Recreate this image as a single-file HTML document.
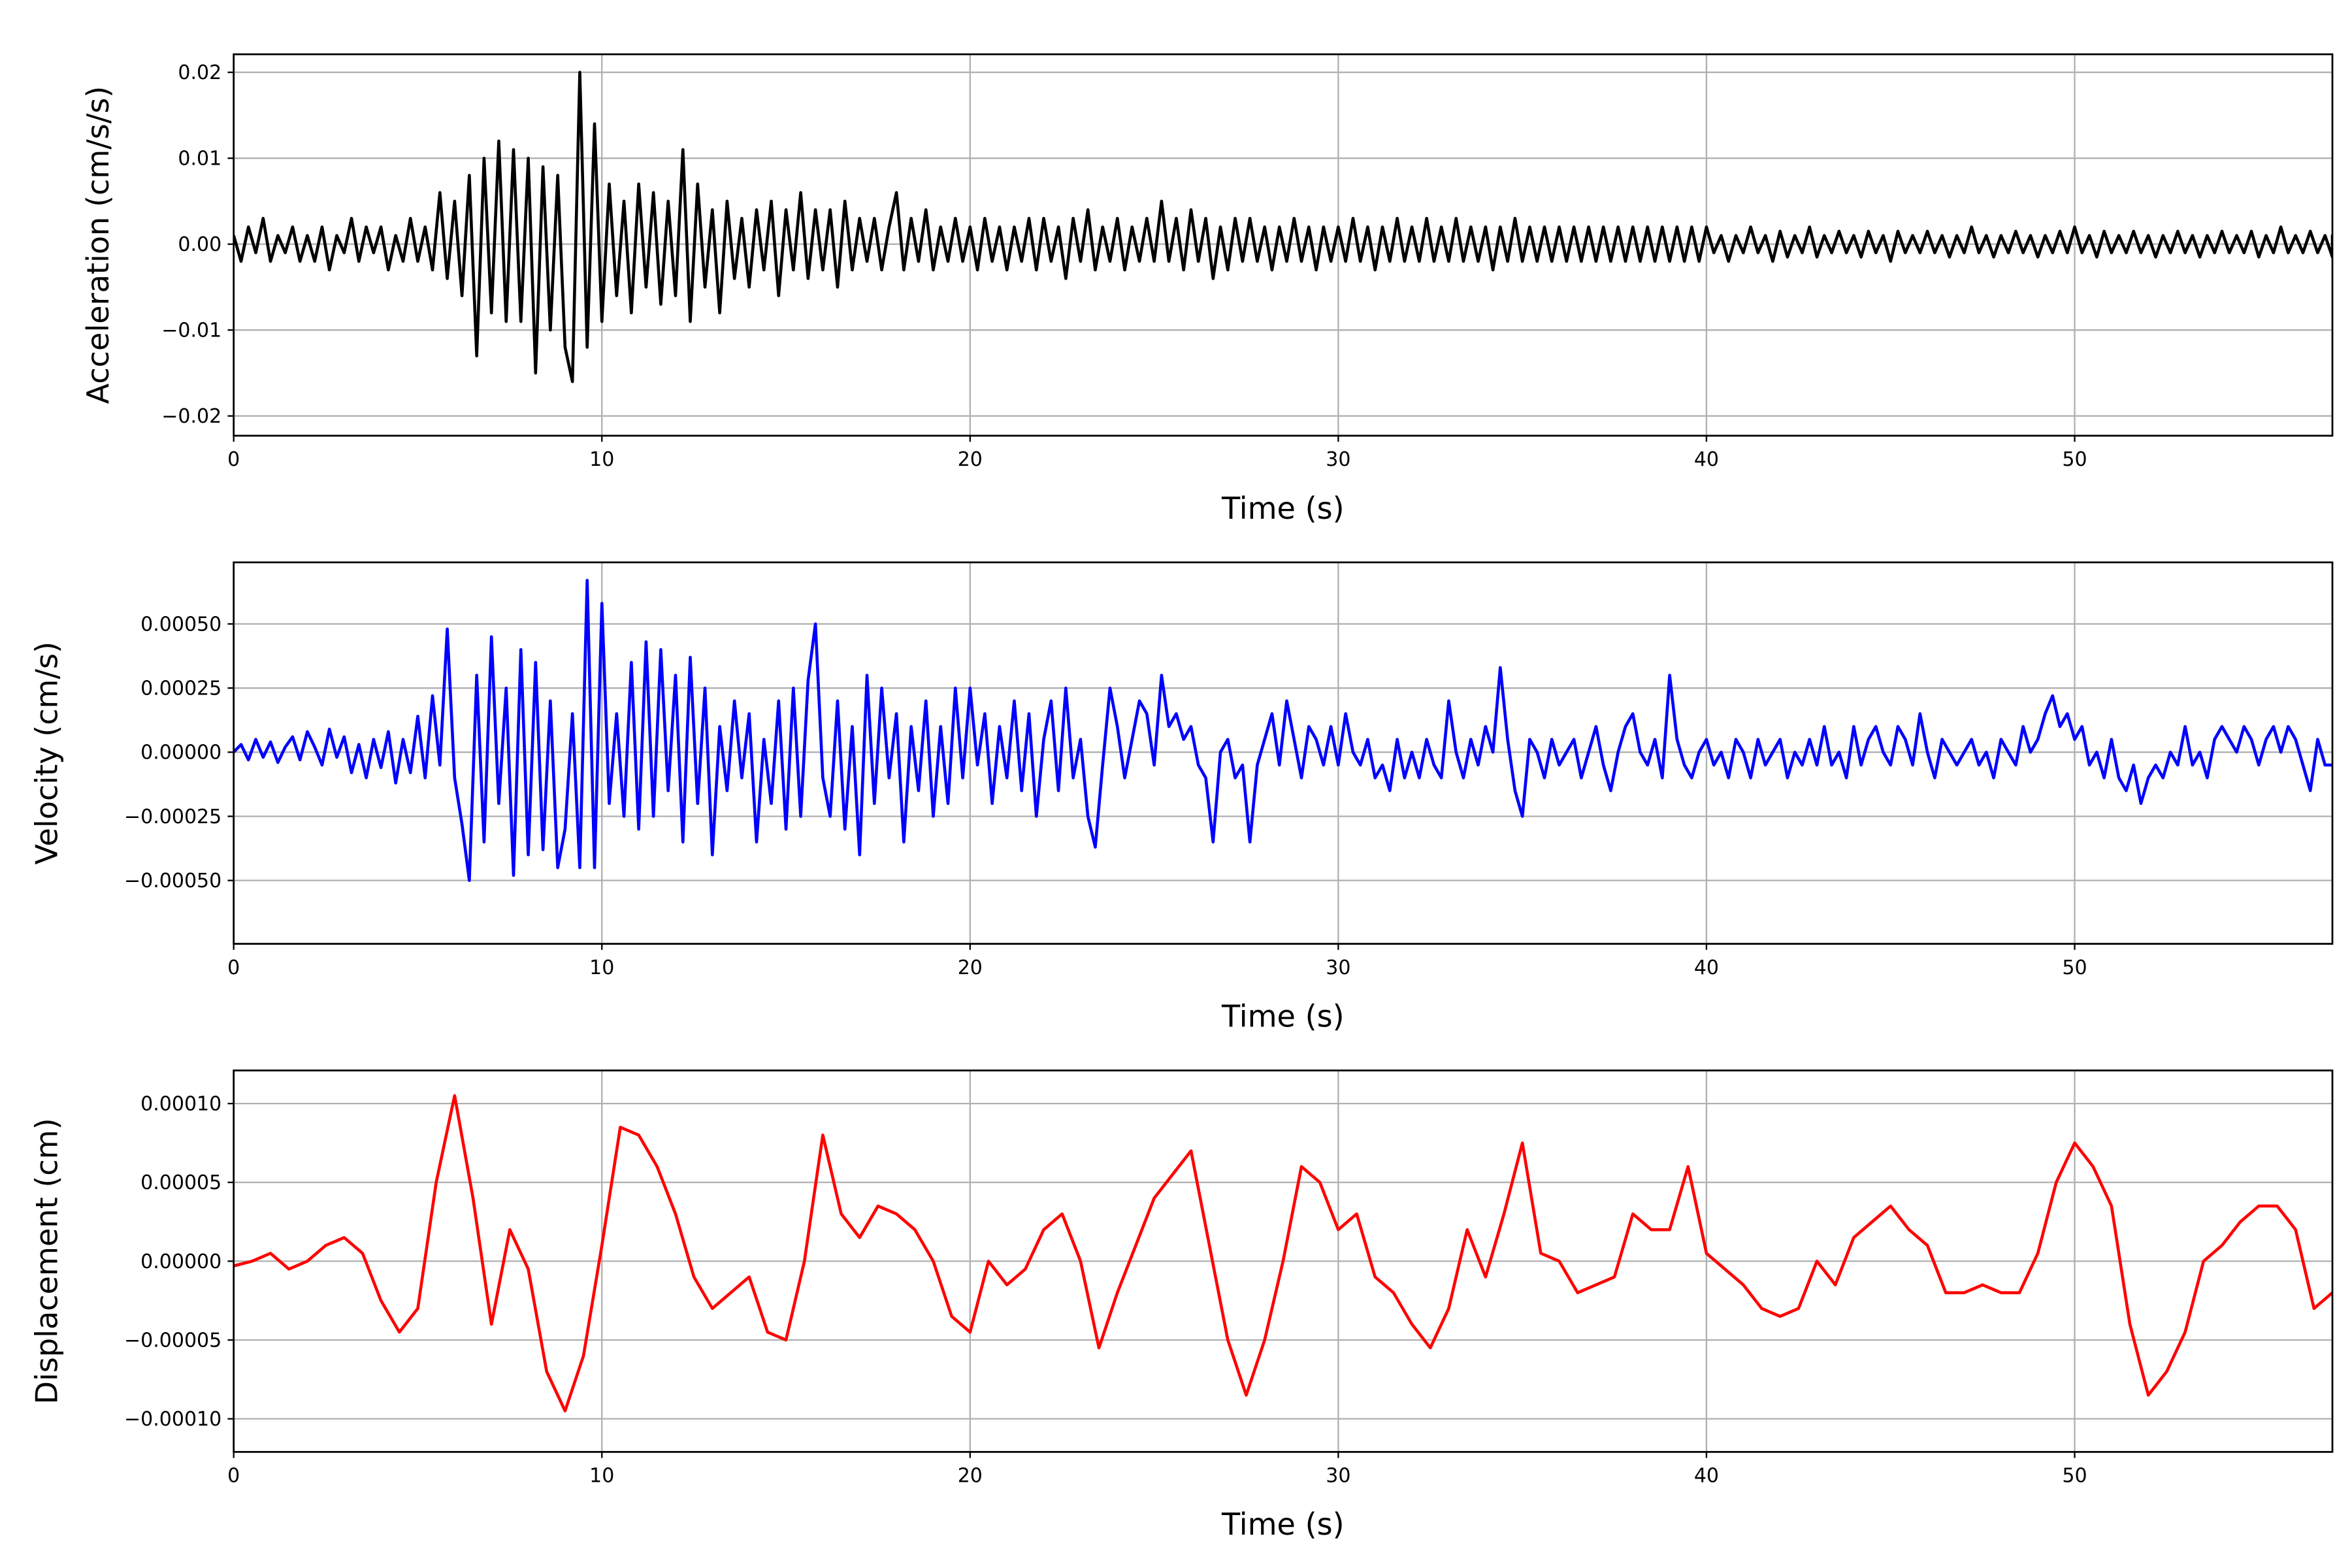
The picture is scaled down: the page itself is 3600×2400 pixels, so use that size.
<!DOCTYPE html>
<html><head><meta charset="utf-8"><style>
html,body{margin:0;padding:0;background:#fff}
svg{display:block}
text{font-family:"DejaVu Sans","Liberation Sans",sans-serif;fill:#000}
</style></head><body>
<svg id="fig" width="3600" height="2400" viewBox="0 0 1560 1040" xmlns="http://www.w3.org/2000/svg"></svg>
<script>
const accValues=[1,-2,2,-1,3,-2,1,-1,2,-2, 1,-2,2,-3,1,-1,3,-2,2,-1, 2,-3,1,-2,3,-2,2,-3,6,-4,
5,-6,8,-13,10,-8,12,-9,11,-9, 10,-15,9,-10,8,-12,-16,20,-12,14, -9,7,-6,5,-8,7,-5,6,-7,5,
-6,11,-9,7,-5,4,-8,5,-4,3, -5,4,-3,5,-6,4,-3,6,-4,4, -3,4,-5,5,-3,3,-2,3,-3,2,
6,-3,3,-2,4,-3,2,-2,3,-2, 2,-3,3,-2,2,-3,2,-2,3,-3, 3,-2,2,-4,3,-2,4,-3,2,-2,
3,-3,2,-2,3,-2,5,-2,3,-3, 4,-2,3,-4,2,-3,3,-2,3,-2, 2,-3,2,-2,3,-2,2,-3,2,-2,
2,-2,3,-2,2,-3,2,-2,3,-2, 2,-2,3,-2,2,-2,3,-2,2,-2, 2,-3,2,-2,3,-2,2,-2,2,-2,
2,-2,2,-2,2,-2,2,-2,2,-2, 2,-2,2,-2,2,-2,2,-2,2,-2, 2,-1,1,-2,1,-1,2,-1,1,-2,
1.5,-1.5,1,-1,2,-1.5,1,-1,1.5,-1, 1,-1.5,1.5,-1,1,-2,1.5,-1,1,-1, 1.5,-1,1,-1.5,1,-1,2,-1,1,-1.5,
1,-1,1.5,-1,1,-1.5,1,-1,1.5,-1, 2,-1,1,-1.5,1.5,-1,1,-1,1.5,-1, 1,-1.5,1,-1,1.5,-1,1,-1.5,1,-1,
1.5,-1,1,-1,1.5,-1.5,1,-1,2,-1, 1,-1,1.5,-1,1,-1.5,1,-1];
const velValues=[0,3,-3,5,-2,4,-4,2,6,-3,8,2,-5,9,-2,6,-8,3,-10,5,
-6,8,-12,5,-8,14,-10,22,-5,48, -10,-28,-50,30,-35,45,-20,25,-48,40,
-40,35,-38,20,-45,-30,15,-45,67,-45, 58,-20,15,-25,35,-30,43,-25,40,-15,
30,-35,37,-20,25,-40,10,-15,20,-10, 15,-35,5,-20,20,-30,25,-25,28,50,
-10,-25,20,-30,10,-40,30,-20,25,-10, 15,-35,10,-15,20,-25,10,-20,25,-10,
25,-5,15,-20,10,-10,20,-15,15,-25, 5,20,-15,25,-10,5,-25,-37,-5,25,
10,-10,5,20,15,-5,30,10,15,5, 10,-5,-10,-35,0,5,-10,-5,-35,-5,
5,15,-5,20,5,-10,10,5,-5,10, -5,15,0,-5,5,-10,-5,-15,5,-10,
0,-10,5,-5,-10,20,0,-10,5,-5, 10,0,33,5,-15,-25,5,0,-10,5,
-5,0,5,-10,0,10,-5,-15,0,10, 15,0,-5,5,-10,30,5,-5,-10,0,
5,-5,0,-10,5,0,-10,5,-5,0, 5,-10,0,-5,5,-5,10,-5,0,-10,
10,-5,5,10,0,-5,10,5,-5,15, 0,-10,5,0,-5,0,5,-5,0,-10,
5,0,-5,10,0,5,15,22,10,15, 5,10,-5,0,-10,5,-10,-15,-5,-20,
-10,-5,-10,0,-5,10,-5,0,-10,5, 10,5,0,10,5,-5,5,10,0,10, 5,-5,-15,5,-5,-5];
const dispValues=[-3,0,5,-5,0,10,15,5,-25,-45,-30,50,105,40,-40,20,-5,-70,-95,-60,
10,85,80,60,30,-10,-30,-20,-10,-45,-50,0,80,30,15,35,30,20,0,-35,
-45,0,-15,-5,20,30,0,-55,-20,10,40,55,70,10,-50,-85,-50,0,60,50,
20,30,-10,-20,-40,-55,-30,20,-10,30,75,5,0,-20,-15,-10,30,20,20,60,
5,-5,-15,-30,-35,-30,0,-15,15,25,35,20,10,-20,-20,-15,-20,-20,5,50,
75,60,35,-40,-85,-70,-45,0,10,25,35,35,20,-30,-20];
const xTicks=[0,10,20,30,40,50];
const accTicks=[0.02,0.01,0,-0.01,-0.02], accTickLabels=["0.02","0.01","0.00","\u22120.01","\u22120.02"];
const velTicks=[0.0005,0.00025,0,-0.00025,-0.0005], velTickLabels=["0.00050","0.00025","0.00000","\u22120.00025","\u22120.00050"];
const dispTicks=[0.0001,0.00005,0,-0.00005,-0.0001], dispTickLabels=["0.00010","0.00005","0.00000","\u22120.00005","\u22120.00010"];

const svg=document.getElementById('fig');
const NS='http://www.w3.org/2000/svg';
function mk(tag,attrs,parent){const e=document.createElementNS(NS,tag);for(const k in attrs)e.setAttribute(k,attrs[k]);(parent||svg).appendChild(e);return e;}
const L=155,R=1547;
function xs(t){return L+(t/57)*(R-L);}

function panel(name,top,bot,ymin,ymax,ticks,labels,vals,dt,scale,color,ylabel,ylabelX){
  const g=mk('g',{});
  
  
  const ys=v=>bot-(v-ymin)/(ymax-ymin)*(bot-top);
  xTicks.forEach(t=>{
    const l=mk('line',{x1:xs(t),x2:xs(t),y1:top,y2:bot,stroke:'#b0b0b0','stroke-width':1},g);
    
    
    mk('line',{x1:xs(t),x2:xs(t),y1:bot,y2:bot+4,stroke:'#000','stroke-width':1},g);
    const tx=mk('text',{x:xs(t),y:bot+20,'text-anchor':'middle','font-size':13},g);
    tx.textContent=t;
    
    
  });
  ticks.forEach((v,i)=>{
    const y=ys(v);
    const l=mk('line',{x1:L,x2:R,y1:y,y2:y,stroke:'#b0b0b0','stroke-width':1},g);
    
    
    mk('line',{x1:L-4,x2:L,y1:y,y2:y,stroke:'#000','stroke-width':1},g);
    const tx=mk('text',{x:L-8,y:y+4.5,'text-anchor':'end','font-size':13},g);
    tx.textContent=labels[i];
    
    
  });
  const pts=vals.map((v,i)=>xs(Math.min(i*dt,57)).toFixed(2)+','+ys(v*scale).toFixed(2)).join(' ');
  const cp=mk('clipPath',{id:'c'+name},g);
  mk('rect',{x:L,y:top,width:R-L,height:bot-top},cp);
  const pl=mk('polyline',{points:pts,fill:'none',stroke:color,'stroke-width':2,'stroke-linejoin':'round','clip-path':'url(#c'+name+')'},g);
  
  
  const fr=mk('rect',{x:L,y:top,width:R-L,height:bot-top,fill:'none',stroke:'#000','stroke-width':1.2},g);
  
  
  const xl=mk('text',{x:(L+R)/2,y:bot+55,'text-anchor':'middle','font-size':20},g);
  xl.textContent='Time (s)';
  
  
  const cy=(top+bot)/2;
  const yl=mk('text',{x:ylabelX,y:cy,'text-anchor':'middle','font-size':20,transform:'rotate(-90 '+ylabelX+' '+cy+')'},g);
  yl.textContent=ylabel;
  
  
}
panel('acceleration',36,289,-0.0223,0.0221,accTicks,accTickLabels,accValues,0.2,0.001,'#000','Acceleration (cm/s/s)',72);
panel('velocity',373,626,-0.000747,0.00074,velTicks,velTickLabels,velValues,0.2,0.00001,'#0000ff','Velocity (cm/s)',38);
panel('displacement',710,963,-0.000121,0.000121,dispTicks,dispTickLabels,dispValues,0.5,0.000001,'#ff0000','Displacement (cm)',38);
</script>
</body></html>
